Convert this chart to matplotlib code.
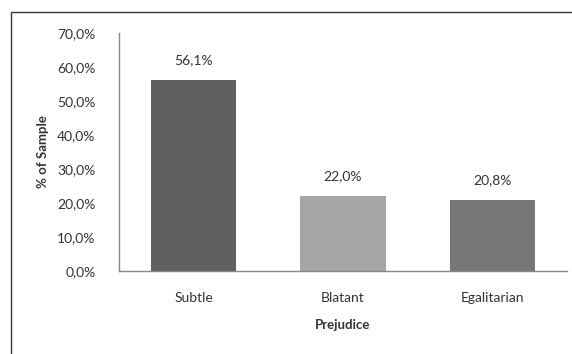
import matplotlib.pyplot as plt
from matplotlib.patches import Rectangle
from matplotlib.ticker import FuncFormatter

categories = ["Subtle", "Blatant", "Egalitarian"]
values = [56.1, 22.0, 20.8]
labels = ["56,1%", "22,0%", "20,8%"]
colors = ["#606060", "#a6a6a6", "#777777"]

plt.rcParams["font.family"] = ["Lato", "DejaVu Sans"]

fig = plt.figure(figsize=(5.72, 3.54), dpi=100)
ax = fig.add_axes([119 / 572, 83 / 354, 448 / 572, 238 / 354])

x = range(len(categories))
bars = ax.bar(x, values, width=0.57, color=colors)
for b, lab in zip(bars, labels):
    ax.annotate(lab, (b.get_x() + b.get_width() / 2, b.get_height()),
                xytext=(0, 10), textcoords="offset points",
                ha="center", va="bottom", fontsize=10, color="#333333")

ax.set_xlim(-0.5, 2.5)
ax.set_ylim(0, 70)
ax.set_yticks(range(0, 71, 10))
ax.yaxis.set_major_formatter(FuncFormatter(lambda v, p: f"{v:.1f}%".replace(".", ",")))
ax.set_xticks(list(x))
ax.set_xticklabels(categories)
ax.tick_params(axis="y", length=0, pad=17, labelsize=10, labelcolor="#333333")
ax.tick_params(axis="x", length=0, pad=15, labelsize=10, labelcolor="#333333")

for s in ["top", "right"]:
    ax.spines[s].set_visible(False)
for s in ["left", "bottom"]:
    ax.spines[s].set_color("#888888")
    ax.spines[s].set_linewidth(1)

ax.set_ylabel("% of Sample", fontsize=9.5, fontweight="bold", color="#333333", labelpad=6)
ax.set_xlabel("Prejudice", fontsize=9.5, fontweight="bold", color="#333333", labelpad=11)

fig.patches.append(Rectangle((11 / 572, -0.1), 1.2, 1.1 - 12 / 354,
                             transform=fig.transFigure, fill=False,
                             edgecolor="#333333", linewidth=1))

fig.savefig("out.png", dpi=100)
